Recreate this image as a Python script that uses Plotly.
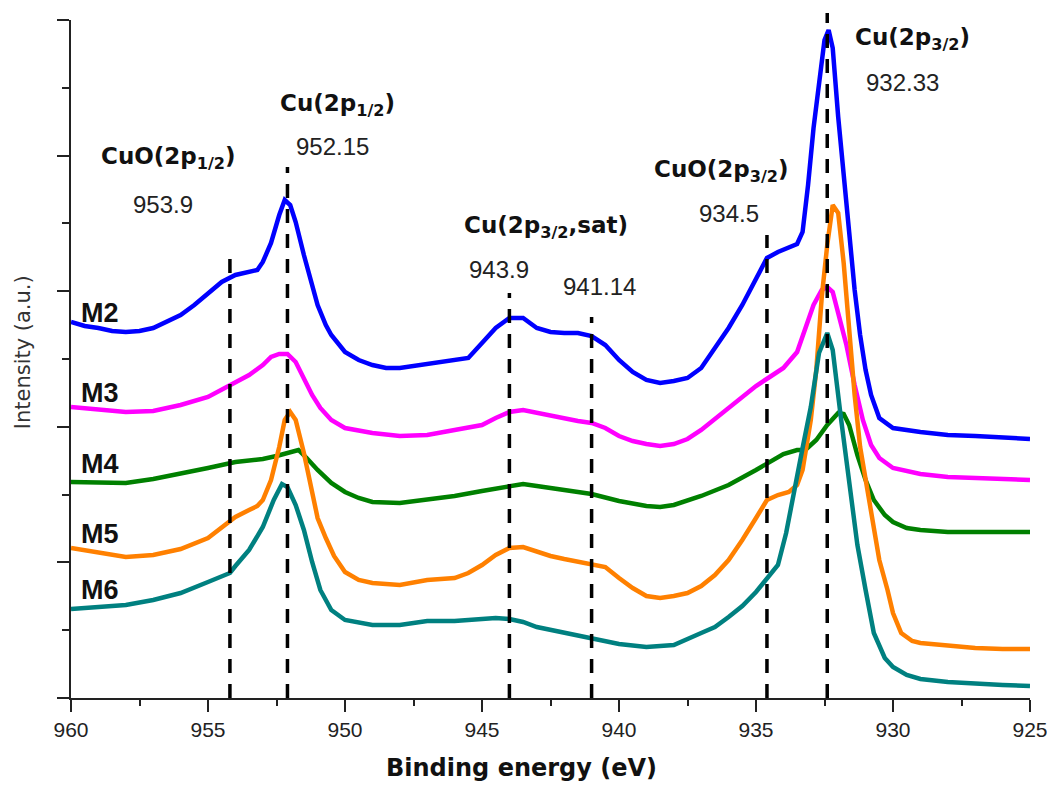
import plotly.graph_objects as go

# ---------------- data (binding energy in eV, intensity in a.u.) ----------------
m2_e = [960,959.5,959,958.5,958,957.5,957,956.5,956,955.5,955,954.5,954,953.5,953.2,953,952.7,952.4,952.2,952,
        951.8,951.5,951.2,951,950.7,950.5,950,949.5,949,948.5,948,947.5,947,946.5,946,945.5,945,944.5,944,943.5,
        943,942.5,942,941.5,941,940.5,940,939.5,939,938.5,938,937.5,937,936.5,936,935.5,935,934.6,934.2,933.8,
        933.5,933.3,933.1,932.9,932.7,932.5,932.35,932.2,932,931.8,931.6,931.4,931.2,931,930.8,930.5,930,929,928,927,
        926,925]
m2_i = [376,372,370,367,366,367,370,376,383,393,404,416,423,426,428,436,455,483,498,493,
        476,443,413,393,373,363,346,338,333,330,330,332,335,336,338,340,355,370,380,380,
        370,366,365,365,362,353,338,326,318,315,317,320,330,350,370,393,420,440,446,450,
        454,466,513,570,613,658,668,650,581,528,466,408,363,328,303,280,270,266,263,262,
        260,259]

m3_e = [960,959,958,957,956,955,954.5,954,953.5,953,952.7,952.4,952.1,951.8,951.5,951.2,950.9,950.5,950,949,
        948,947,946,945,944.5,944,943.5,943,942.5,942,941.5,941,940.5,940,939.5,939,938.5,938,937.5,937,
        936.5,936,935.5,935,934.5,934,933.5,933.2,932.9,932.6,932.4,932.2,932,931.7,931.4,931.1,930.8,930.5,930,929,
        928,927,926,925]
m3_i = [291,288,286,287,293,301,308,316,323,333,341,344,344,336,320,303,290,278,270,265,
        262,263,268,273,280,286,288,285,282,279,277,275,270,262,257,254,252,254,259,268,
        279,291,302,312,321,330,346,368,393,408,411,406,386,353,313,278,253,240,230,224,
        221,220,219,218]

m4_e = [960,959,958,957,956,955,954,953,952.5,952,951.7,951.4,951,950.5,950,949.5,949,948,947,946,
        945,944,943.5,943,942,941,940,939,938.5,938,937,936,935,934.5,934,933.5,933.2,932.8,932.4,932,
        931.8,931.6,931.3,931,930.7,930.3,930,929.5,929,928,927,926,925]
m4_i = [216,215,215,219,224,230,236,239,242,246,248,240,228,215,206,200,196,195,198,202,
        207,211,214,212,208,204,197,192,191,193,202,213,228,236,244,248,248,258,273,285,
        284,273,243,218,198,183,176,170,168,166,166,166,166]

m5_e = [960,959,958,957,956,955,954.5,954,953.5,953.2,953,952.7,952.4,952.2,952,951.8,951.5,951.2,951,950.7,
        950.4,950,949.5,949,948,947,946,945.5,945,944.5,944,943.5,943,942.5,942,941.5,941,940.5,940,939.5,
        939,938.5,938,937.5,937,936.5,936,935.5,935,934.6,934.2,933.8,933.5,933.3,933,932.8,932.6,932.4,932.2,932,
        931.8,931.6,931.4,931.2,931,930.8,930.5,930.2,930,929.7,929.3,929,928,927,926,925]
m5_i = [150,145,141,143,149,160,170,181,188,192,198,218,251,278,286,278,245,205,180,160,
        142,126,118,115,113,118,120,125,133,143,150,151,146,142,139,136,134,131,120,110,
        102,100,102,105,112,123,138,158,180,198,203,206,213,228,278,328,401,453,493,485,
        435,363,303,251,218,183,138,108,85,65,57,55,52,50,49,49]

m6_e = [960,959,958,957,956,955,954.2,954,953.5,953,952.6,952.3,952.1,951.8,951.5,951.2,950.9,950.5,950,949,
        948,947,946,945,944.5,944,943.5,943,942,941,940,939,938,937,936.5,936,935.5,935,934.5,934.2,
        933.9,933.6,933.3,933,932.7,932.4,932.2,931.9,931.6,931.3,931,930.7,930.3,930,929.5,929,928,927,926,925]
m6_i = [89,91,93,98,105,116,125,132,148,171,198,214,211,193,168,136,108,88,78,73,
        73,77,77,79,80,79,76,71,65,59,54,51,53,65,71,81,92,106,122,133,
        165,205,250,291,345,365,348,280,218,153,108,65,40,31,23,19,16,14,13,12]

series_names = ["M2", "M3", "M4", "M5", "M6"]
series_colors = ["#0000FF", "#FF00FF", "#008000", "#FF8000", "#008080"]
series_e = [m2_e, m3_e, m4_e, m5_e, m6_e]
series_i = [m2_i, m3_i, m4_i, m5_i, m6_i]

# reference lines: energy and top of the dashed line (a.u.)
ref_e = [954.2, 952.1, 944.0, 941.0, 934.6, 932.4]
ref_top = [443, 531, 405, 381, 463, 685]

# label texts and positions (energy, intensity)
peak_labels = ["CuO(2p<sub>1/2</sub>)", "Cu(2p<sub>1/2</sub>)", "Cu(2p<sub>3/2</sub>,sat)",
               "CuO(2p<sub>3/2</sub>)", "Cu(2p<sub>3/2</sub>)"]
peak_label_e = [958.98, 952.45, 945.73, 938.8, 931.46]
peak_label_i = [540, 593, 471, 527, 659]
value_labels = ["953.9", "952.15", "943.9", "941.14", "934.5", "932.33"]
value_label_e = [956.64, 950.47, 944.38, 940.73, 935.99, 929.67]
value_label_i = [494, 552, 429, 412, 485, 616]
name_label_i = [385, 305, 234, 164, 108]
name_label_e = 959.7

x_tick_vals = [960, 955, 950, 945, 940, 935, 930, 925]
x_tick_text = ["960", "955", "950", "945", "940", "935", "930", "925"]

Y_MAX = 678
X_RANGE = [960, 925]

fig = go.Figure()
for name, col, e, inten in zip(series_names, series_colors, series_e, series_i):
    fig.add_trace(go.Scatter(x=e, y=inten, mode="lines", name=name,
                             line=dict(color=col, width=4.5), showlegend=False))

for e, top in zip(ref_e, ref_top):
    fig.add_shape(type="line", xref="x", yref="paper", x0=e, x1=e, y0=0, y1=top / Y_MAX,
                  line=dict(color="black", width=3.5, dash="14px,11px"), layer="above")

bold_font = dict(family="DejaVu Sans", size=23, color="#111111")
num_font = dict(family="Liberation Sans, Arial", size=24, color="#222222")
for t, e, v in zip(peak_labels, peak_label_e, peak_label_i):
    fig.add_annotation(x=e, y=v, xref="x", yref="y", text="<b>" + t + "</b>", showarrow=False,
                       xanchor="left", yanchor="middle", font=bold_font)
for t, e, v in zip(value_labels, value_label_e, value_label_i):
    fig.add_annotation(x=e, y=v, xref="x", yref="y", text=t, showarrow=False,
                       xanchor="center", yanchor="middle", font=num_font)
for t, v in zip(series_names, name_label_i):
    fig.add_annotation(x=name_label_e, y=v, xref="x", yref="y", text="<b>" + t + "</b>", showarrow=False,
                       xanchor="left", yanchor="middle",
                       font=dict(family="Liberation Sans, Arial", size=27, color="#111111"))

fig.add_annotation(x=0.47, y=-0.103, xref="paper", yref="paper", text="<b>Binding energy (eV)</b>",
                   showarrow=False, xanchor="center", yanchor="middle",
                   font=dict(family="DejaVu Sans", size=24, color="#111111"))
fig.add_annotation(x=-0.05, y=0.51, xref="paper", yref="paper", text="Intensity (a.u.)",
                   showarrow=False, textangle=-90, xanchor="center", yanchor="middle",
                   font=dict(family="DejaVu Sans", size=21, color="#333333"))

fig.update_xaxes(range=X_RANGE, showline=True, linecolor="#222222", linewidth=1.5, automargin=False,
                 ticks="outside", ticklen=12, tickwidth=1.5, tickcolor="#222222",
                 tickmode="array", tickvals=x_tick_vals, ticktext=x_tick_text,
                 ticklabeloverflow="allow",
                 showgrid=False, zeroline=False,
                 tickfont=dict(family="Liberation Sans, Arial", size=21, color="#222222"),
                 minor=dict(ticks="outside", ticklen=6, tickwidth=1.5, tickcolor="#222222",
                            tickmode="linear", tick0=925, dtick=2.5, showgrid=False))
fig.update_yaxes(range=[0, Y_MAX], showline=True, linecolor="#222222", linewidth=1.5, automargin=False,
                 ticks="outside", ticklen=12, tickwidth=1.5, tickcolor="#222222",
                 tick0=0, dtick=Y_MAX / 5, showticklabels=False, showgrid=False, zeroline=False,
                 minor=dict(ticks="outside", ticklen=7, tickwidth=1.5, tickcolor="#222222", dtick=Y_MAX / 10, showgrid=False))

fig.update_layout(width=1047, height=785, margin=dict(l=71, r=17, t=20, b=87, pad=0, autoexpand=False),
                  plot_bgcolor="white", paper_bgcolor="white")

# remove the default page margin so the 1047x785 figure fills the window exactly
fig.write_html("out.html", config={"displayModeBar": False},
               post_script="document.body.style.margin='0';document.body.style.overflow='hidden';")
